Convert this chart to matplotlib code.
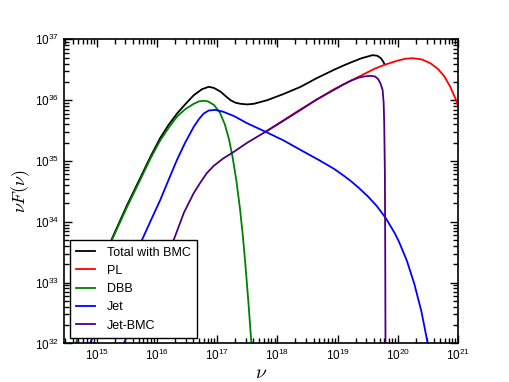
import numpy as np
import matplotlib
matplotlib.use("Agg")
import matplotlib.pyplot as plt
from matplotlib.ticker import FuncFormatter, NullFormatter

plt.rcParams["font.family"] = ["Liberation Sans", "DejaVu Sans"]
plt.rcParams["mathtext.fontset"] = "cm"

# log10(nu), log10(nu F(nu))
total_lognu = [14.66, 14.9, 15.1, 15.255, 15.5, 15.725, 15.9, 16.058, 16.2, 16.336,
               16.47, 16.612, 16.75, 16.862, 16.95, 17.057, 17.15, 17.223, 17.3,
               17.389, 17.5, 17.611, 17.834, 18.1, 18.388, 18.65, 18.942, 19.1,
               19.22, 19.4, 19.58, 19.66, 19.719, 19.76, 19.78]
total_logf = [32.0, 32.70, 33.26, 33.72, 34.26, 34.72, 35.08, 35.38, 35.60, 35.78,
              35.93, 36.08, 36.18, 36.22, 36.20, 36.14, 36.06, 36.00, 35.96,
              35.94, 35.93, 35.94, 36.00, 36.10, 36.22, 36.36, 36.50, 36.57,
              36.62, 36.69, 36.74, 36.73, 36.69, 36.63, 36.59]

pl_lognu = [17.805, 18.388, 18.942, 19.22, 19.441, 19.6, 19.774, 19.997, 20.12,
            20.246, 20.4, 20.551, 20.67, 20.772, 20.87, 20.967, 21.0]
pl_logf = [35.48, 35.85, 36.18, 36.32, 36.43, 36.51, 36.58, 36.65, 36.68,
           36.69, 36.67, 36.60, 36.51, 36.39, 36.22, 36.0, 35.90]

dbb_lognu = [14.66, 14.9, 15.1, 15.255, 15.5, 15.725, 15.9, 16.058, 16.2, 16.336,
             16.47, 16.612, 16.7, 16.779, 16.85, 16.95, 17.05, 17.13, 17.2,
             17.26, 17.32, 17.38, 17.43, 17.47, 17.52, 17.57]
dbb_logf = [32.0, 32.70, 33.26, 33.70, 34.23, 34.69, 35.05, 35.34, 35.55, 35.73,
            35.85, 35.94, 35.98, 35.99, 35.98, 35.92, 35.79, 35.60, 35.35,
            35.05, 34.68, 34.22, 33.75, 33.30, 32.68, 32.0]

jet_lognu = [14.89, 15.3, 15.754, 15.9, 16.058, 16.2, 16.336, 16.47, 16.612, 16.7,
             16.779, 16.862, 16.973, 17.1, 17.278, 17.5, 17.805, 18.1, 18.388,
             18.7, 18.942, 19.1, 19.22, 19.35, 19.5, 19.65, 19.8, 19.95, 20.02,
             20.15, 20.273, 20.39, 20.496]
jet_logf = [32.0, 32.86, 33.70, 34.02, 34.36, 34.70, 35.02, 35.30, 35.56, 35.69,
            35.78, 35.83, 35.84, 35.81, 35.74, 35.62, 35.48, 35.34, 35.18,
            35.01, 34.87, 34.76, 34.67, 34.56, 34.42, 34.26, 34.06, 33.81, 33.67,
            33.36, 32.98, 32.53, 32.0]

jbmc_lognu = [15.45, 15.9, 16.28, 16.45, 16.612, 16.72, 16.83, 16.945, 17.1, 17.278,
              17.5, 17.805, 18.1, 18.388, 18.65, 18.942, 19.1, 19.22, 19.35,
              19.441, 19.552, 19.62, 19.67, 19.71, 19.747, 19.765, 19.774,
              19.785, 19.79, 19.795]
jbmc_logf = [32.0, 32.90, 33.70, 34.15, 34.47, 34.64, 34.80, 34.92, 35.04, 35.15,
             35.30, 35.48, 35.66, 35.84, 36.01, 36.17, 36.26, 36.32, 36.37,
             36.39, 36.40, 36.39, 36.35, 36.28, 36.17, 35.95, 35.62,
             34.80, 33.70, 32.0]

series = [
    ("Total with BMC", total_lognu, total_logf, "black"),
    ("PL", pl_lognu, pl_logf, "red"),
    ("DBB", dbb_lognu, dbb_logf, "green"),
    ("Jet", jet_lognu, jet_logf, "blue"),
    ("Jet-BMC", jbmc_lognu, jbmc_logf, "indigo"),
]

x_decades = [15, 16, 17, 18, 19, 20, 21]
y_decades = [32, 33, 34, 35, 36, 37]
xlim = (2.9e14, 1e21)
ylim = (1e32, 1e37)

fig = plt.figure(figsize=(5.09, 3.82), dpi=100)
ax = fig.add_axes([0.126, 0.101, 0.774, 0.796])

for label, lx, ly, col in series:
    ax.plot(10 ** np.array(lx), 10 ** np.array(ly), color=col, lw=1.3, label=label)

ax.set_xscale("log")
ax.set_yscale("log")
ax.set_xlim(*xlim)
ax.set_ylim(*ylim)

fmt = FuncFormatter(lambda v, p: r"$\mathregular{10^{%d}}$" % round(np.log10(v)))
ax.set_xticks([10.0 ** d for d in x_decades])
ax.set_yticks([10.0 ** d for d in y_decades])
xminor = [m * 10.0 ** d for d in range(14, 21) for m in range(2, 10)]
yminor = [m * 10.0 ** d for d in range(32, 37) for m in range(2, 10)]
ax.set_xticks([v for v in xminor if xlim[0] <= v <= xlim[1]], minor=True)
ax.set_yticks(yminor, minor=True)
ax.xaxis.set_major_formatter(fmt)
ax.yaxis.set_major_formatter(fmt)
ax.xaxis.set_minor_formatter(NullFormatter())
ax.yaxis.set_minor_formatter(NullFormatter())

ax.tick_params(which="both", direction="in", top=True, right=True, labelsize=8.5)
ax.tick_params(which="major", length=6, width=1)
ax.tick_params(which="minor", length=3.5, width=1)
for s in ax.spines.values():
    s.set_linewidth(1.2)

ax.set_xlabel(r"$\nu$", fontsize=14, labelpad=1)
ax.set_ylabel(r"$\nu F(\nu)$", fontsize=13, labelpad=2)

leg = ax.legend(loc="lower left", fontsize=9, handlelength=1.5, handletextpad=1.0,
                borderpad=0.5, borderaxespad=0.45, fancybox=False, framealpha=1)
leg.get_frame().set_edgecolor("black")
leg.get_frame().set_linewidth(1.0)

fig.savefig("out.png", dpi=100)
